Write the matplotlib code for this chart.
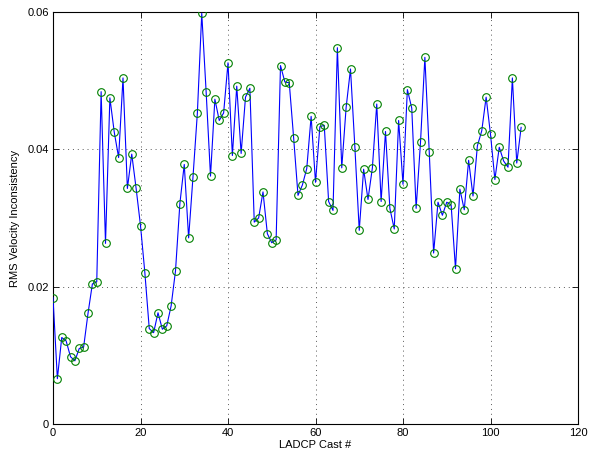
import matplotlib
matplotlib.use('Agg')
import matplotlib.pyplot as plt
import numpy as np

plt.rcParams['font.family'] = ['Liberation Sans', 'DejaVu Sans']
plt.rcParams['font.size'] = 8

# cast number and rms velocity inconsistency
cast = np.arange(0, 108)
rms = [0.0184, 0.0066, 0.0126, 0.0121, 0.0098, 0.0092, 0.0110, 0.0112, 0.0161, 0.0204,
       0.0207, 0.0484, 0.0263, 0.0475, 0.0425, 0.0388, 0.0504, 0.0343, 0.0393, 0.0343,
       0.0289, 0.0220, 0.0139, 0.0133, 0.0162, 0.0138, 0.0143, 0.0172, 0.0223, 0.0321,
       0.0378, 0.0271, 0.0360, 0.0453, 0.0598, 0.0484, 0.0361, 0.0473, 0.0442, 0.0453,
       0.0526, 0.0391, 0.0492, 0.0394, 0.0476, 0.0489, 0.0294, 0.0300, 0.0338, 0.0277,
       0.0264, 0.0268, 0.0522, 0.0498, 0.0497, 0.0417, 0.0333, 0.0348, 0.0372, 0.0448,
       0.0352, 0.0433, 0.0435, 0.0324, 0.0311, 0.0548, 0.0373, 0.0461, 0.0517, 0.0403,
       0.0282, 0.0371, 0.0327, 0.0373, 0.0466, 0.0324, 0.0426, 0.0314, 0.0284, 0.0442,
       0.0349, 0.0487, 0.0460, 0.0314, 0.0410, 0.0534, 0.0396, 0.0249, 0.0323, 0.0304,
       0.0323, 0.0319, 0.0226, 0.0342, 0.0312, 0.0384, 0.0332, 0.0405, 0.0427, 0.0476,
       0.0422, 0.0356, 0.0403, 0.0383, 0.0374, 0.0504, 0.0380, 0.0432]

xticks = [0, 20, 40, 60, 80, 100, 120]
yticks = [0, 0.02, 0.04, 0.06]
ytick_labels = ['0', '0.02', '0.04', '0.06']

fig = plt.figure(figsize=(5.89, 4.59), dpi=100, facecolor='w')
ax = fig.add_axes([53/589., 1 - 424/459., 525/589., 412/459.])

ax.plot(cast, rms, '-', color=(0, 0, 1), lw=0.8, zorder=3)
ax.plot(cast, rms, 'o', mfc='none', mec=(0, 0.5, 0), ms=5.5, mew=0.8, zorder=4)

ax.set_xlim(0, 120)
ax.set_ylim(0, 0.06)
ax.set_xticks(xticks)
ax.set_yticks(yticks)
ax.set_yticklabels(ytick_labels)
ax.tick_params(direction='in', length=4, width=0.6, top=True, right=True, pad=3)
ax.grid(True, linestyle=(0, (1, 4)), color='0.35', lw=0.7)
for s in ax.spines.values():
    s.set_linewidth(0.8)

ax.set_xlabel('LADCP Cast #', labelpad=1)
ax.set_ylabel('RMS Velocity Inconsistency', labelpad=5)

fig.savefig('out.png', dpi=100)
